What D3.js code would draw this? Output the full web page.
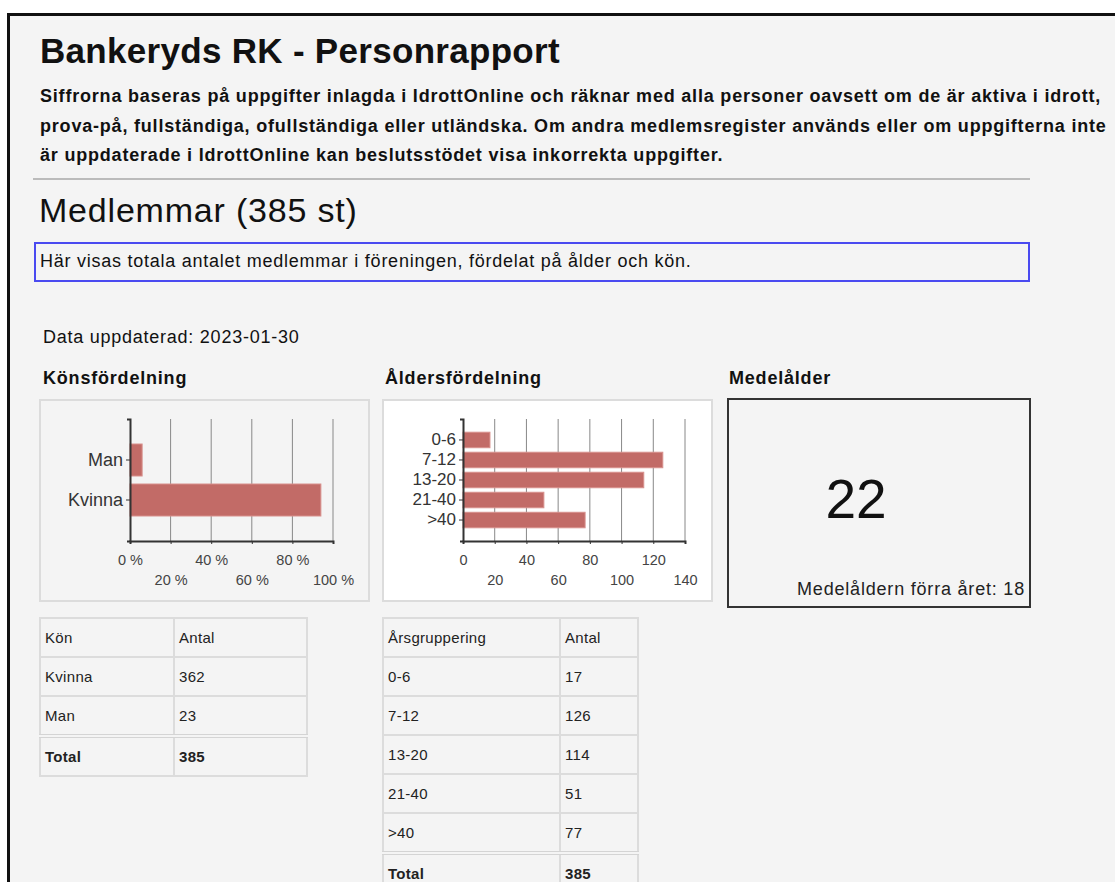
<!DOCTYPE html>
<html>
<head>
<meta charset="utf-8">
<script src="https://cdn.jsdelivr.net/npm/d3@7"></script>
<style>
  html, body { margin: 0; padding: 0; background: #fff; overflow: hidden; }
  body { width: 1115px; height: 882px; position: relative; font-family: "Liberation Sans", Arial, sans-serif; color: #111; }
  .frame { position: absolute; left: 7px; top: 13px; width: 1200px; height: 1000px;
    border-top: 3px solid #111; border-left: 3px solid #111; background: #f4f4f4; }
  .abs { position: absolute; white-space: nowrap; line-height: 1; }
  .title { font-size: 35px; font-weight: bold; letter-spacing: 0.3px; }
  .intro { font-size: 18px; font-weight: bold; line-height: 29.5px; letter-spacing: 0.8px; }
  .hr { position: absolute; left: 33px; top: 178px; width: 997px; height: 2px; background: #bbb; }
  .h2 { font-size: 34px; letter-spacing: 0.8px; }
  .info { position: absolute; left: 34px; top: 242px; width: 992px; height: 36px; border: 2px solid #4a4af0; }
  .txt { font-size: 18px; letter-spacing: 0.75px; }
  .h3 { font-size: 18px; font-weight: bold; letter-spacing: 0.8px; }
  svg { position: absolute; overflow: visible; }
  table { position: absolute; border-collapse: collapse; table-layout: fixed; font-size: 15px; letter-spacing: 0.3px; color: #222; }
  td { border: 2px solid #dcdcdc; height: 37px; padding: 0 0 0 4px; }
  tr.total td { border-top: 4px double #d4d4d4; font-weight: bold; }
</style>
</head>
<body>
<div class="frame"></div>
<div class="abs title" style="left:40px; top:33px;">Bankeryds RK - Personrapport</div>
<div class="abs intro" style="left:40px; top:82px;">Siffrorna baseras på uppgifter inlagda i IdrottOnline och räknar med alla personer oavsett om de är aktiva i idrott,<br>prova-på, fullständiga, ofullständiga eller utländska. Om andra medlemsregister används eller om uppgifterna inte<br>är uppdaterade i IdrottOnline kan beslutsstödet visa inkorrekta uppgifter.</div>
<div class="hr"></div>
<div class="abs h2" style="left:39px; top:193px;">Medlemmar (385 st)</div>
<div class="info"></div>
<div class="abs txt" style="left:40px; top:252px;">Här visas totala antalet medlemmar i föreningen, fördelat på ålder och kön.</div>
<div class="abs txt" style="left:43px; top:328px;">Data uppdaterad: 2023-01-30</div>
<div class="abs h3" style="left:43px; top:369px;">Könsfördelning</div>
<div class="abs h3" style="left:385px; top:369px;">Åldersfördelning</div>
<div class="abs h3" style="left:729px; top:369px;">Medelålder</div>

<script>
// data
const genderCats = ['Man', 'Kvinna'];
const genderCounts = [23, 362];
const genderTotal = 385;
const pctTicks = [0, 20, 40, 60, 80, 100];

const ageCats = ['0-6', '7-12', '13-20', '21-40', '>40'];
const ageCounts = [17, 126, 114, 51, 77];
const ageTotal = 385;
const ageTicks = [0, 20, 40, 60, 80, 100, 120, 140];

const avgAge = 22;
const prevAvgAge = 18;

const genderTableHead = ['Kön', 'Antal'];
const ageTableHead = ['Årsgruppering', 'Antal'];

const barFill = '#c26b67';
const barStroke = '#d8908c';

function drawBarChart(opts) {
  const svg = d3.select('body').append('svg')
    .attr('width', 331)
    .attr('height', 203)
    .style('left', opts.left + 'px')
    .style('top', '399px');

  svg.append('rect')
    .attr('x', 1).attr('y', 1)
    .attr('width', 329).attr('height', 201)
    .attr('fill', opts.bg)
    .attr('stroke', '#dcdcdc')
    .attr('stroke-width', 2);

  const x = d3.scaleLinear()
    .domain([0, opts.ticks[opts.ticks.length - 1]])
    .range(opts.xRange);

  const y = d3.scaleBand()
    .domain(opts.cats)
    .range([20, 142])
    .paddingInner(opts.padIn)
    .paddingOuter(opts.padOut);

  // gridlines
  svg.append('g')
    .selectAll('line')
    .data(opts.ticks.slice(1))
    .join('line')
    .attr('x1', d => x(d)).attr('x2', d => x(d))
    .attr('y1', 20).attr('y2', 142)
    .attr('stroke', '#888')
    .attr('stroke-width', 1);

  // bars
  svg.append('g')
    .selectAll('rect')
    .data(opts.values)
    .join('rect')
    .attr('x', x(0))
    .attr('y', (d, i) => y(opts.cats[i]))
    .attr('width', d => x(d) - x(0))
    .attr('height', y.bandwidth())
    .attr('fill', barFill)
    .attr('stroke', barStroke)
    .attr('stroke-width', 1);

  // x axis
  const gx = svg.append('g')
    .attr('transform', 'translate(0,142)')
    .call(d3.axisBottom(x).tickValues(opts.ticks).tickSize(3).tickFormat(opts.fmt));
  gx.select('.domain').attr('stroke', '#333').attr('stroke-width', 2);
  gx.selectAll('.tick line').attr('stroke', '#333');
  gx.selectAll('text')
    .attr('y', (d, i) => i % 2 ? 39 : 19)
    .attr('dy', '0.35em')
    .attr('fill', '#444')
    .style('font-family', '"Liberation Sans", Arial, sans-serif')
    .style('font-size', '14.5px');

  // y axis
  const gy = svg.append('g')
    .attr('transform', `translate(${x(0)},0)`)
    .call(d3.axisLeft(y).tickSize(4).tickSizeOuter(3));
  gy.select('.domain').attr('stroke', '#333').attr('stroke-width', 2);
  gy.selectAll('.tick line').attr('stroke', '#333');
  gy.selectAll('text')
    .attr('x', -7)
    .attr('fill', '#333')
    .style('font-family', '"Liberation Sans", Arial, sans-serif')
    .style('font-size', opts.labelSize);
}

drawBarChart({
  left: 39, bg: '#f4f4f4',
  cats: genderCats,
  values: genderCounts.map(v => v / genderTotal * 100),
  ticks: pctTicks,
  fmt: d => d + ' %',
  xRange: [91, 294],
  padIn: 0.2, padOut: 0.625,
  labelSize: '18px'
});

drawBarChart({
  left: 382, bg: '#ffffff',
  cats: ageCats,
  values: ageCounts,
  ticks: ageTicks,
  fmt: d => d,
  xRange: [81, 303],
  padIn: 0.225, padOut: 0.66,
  labelSize: '17px'
});

// average age box
const avgSvg = d3.select('body').append('svg')
  .attr('width', 304).attr('height', 210)
  .style('left', '727px').style('top', '398px');
avgSvg.append('rect')
  .attr('x', 1).attr('y', 1).attr('width', 302).attr('height', 208)
  .attr('fill', '#f4f4f4').attr('stroke', '#333').attr('stroke-width', 2);
avgSvg.append('text')
  .attr('x', 129).attr('y', 120)
  .attr('text-anchor', 'middle')
  .style('font-family', '"Liberation Sans", Arial, sans-serif')
  .style('font-size', '55px')
  .attr('fill', '#111')
  .text(avgAge);
avgSvg.append('text')
  .attr('x', 298).attr('y', 197)
  .attr('text-anchor', 'end')
  .style('font-family', '"Liberation Sans", Arial, sans-serif')
  .style('font-size', '18px')
  .style('letter-spacing', '0.8px')
  .attr('fill', '#222')
  .text('Medelåldern förra året: ' + prevAvgAge);

// tables
function drawTable(left, head, cats, counts, total, colW) {
  const rows = [head].concat(cats.map((c, i) => [c, counts[i]]));
  const table = d3.select('body').append('table')
    .style('left', left + 'px')
    .style('top', '617px');
  table.append('colgroup').selectAll('col')
    .data(colW).join('col').style('width', d => d + 'px');
  const tb = table.append('tbody');
  tb.selectAll('tr.row')
    .data(rows)
    .join('tr').attr('class', 'row')
    .selectAll('td')
    .data(d => d)
    .join('td')
    .text(d => d);
  tb.append('tr').attr('class', 'total')
    .selectAll('td')
    .data(['Total', total])
    .join('td')
    .text(d => d);
}

drawTable(39, genderTableHead, genderCats.slice().reverse(), genderCounts.slice().reverse(), genderTotal, [134, 133]);
drawTable(382, ageTableHead, ageCats, ageCounts, ageTotal, [177, 78]);
</script>
</body>
</html>
